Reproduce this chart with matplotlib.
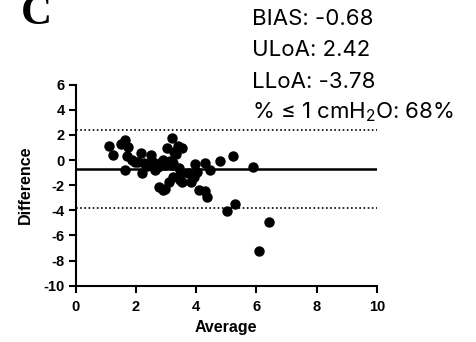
import numpy as np
from matplotlib import pyplot as plt
from matplotlib import rcParams

rcParams['mathtext.fontset'] = 'custom'
rcParams['mathtext.rm'] = 'Inter'
rcParams['axes.unicode_minus'] = False

# Bland-Altman data
avg = [1.10, 1.24, 1.49, 1.62, 1.73, 1.69, 1.62, 1.86, 1.97, 2.08,
       2.18, 2.19, 2.27, 2.36, 2.49, 2.44, 2.58, 2.63, 2.63, 2.74,
       2.80, 2.91, 2.93, 2.97, 2.77, 2.91, 2.97, 3.02, 3.06, 3.11,
       3.13, 3.19, 3.20, 3.24, 3.24, 3.27, 3.32, 3.41, 3.52, 3.43,
       3.47, 3.52, 3.47, 3.74, 3.83, 3.91, 3.97, 4.02, 4.09, 4.30,
       4.30, 4.36, 4.47, 4.80, 5.02, 5.22, 5.30, 5.90, 6.42, 6.10]
diff = [1.14, 0.40, 1.25, 1.60, 1.07, 0.35, -0.80, 0.00, -0.13, -0.19,
        0.59, -1.07, -0.21, -0.48, 0.40, -0.27, -0.13, -0.40, -0.80, -0.53,
        -0.21, 0.00, -0.27, -0.40, -2.13, -2.40, -2.27, 0.93, -0.27, -1.73,
        -0.05, -0.40, 1.78, -0.27, -1.33, 0.67, 0.45, 1.14, 0.93, -0.67,
        -1.20, -1.73, -1.55, -1.07, -1.73, -1.33, -0.35, -0.93, -2.40, -0.27,
        -2.48, -2.93, -0.80, -0.05, -4.08, 0.32, -3.47, -0.53, -4.92, -7.23]

bias = -0.68
uloa = 2.42
lloa = -3.78
xticks = [0, 2, 4, 6, 8, 10]
yticks = [6, 4, 2, 0, -2, -4, -6, -8, -10]

stats_lines = [f"BIAS: {bias}",
               f"ULoA: {uloa}",
               f"LLoA: {lloa}",
               r"% ≤ 1 cmH$_\mathregular{2}$O: 68%"]

tick_font = dict(family='Liberation Sans', weight='bold', size=10.5)

fig = plt.figure(figsize=(4.77, 3.42), dpi=100)
ax = fig.add_axes([0.159, 0.1646, 0.631, 0.588])

ax.plot(avg, diff, 'o', color='black', markersize=6.5, linewidth=0, clip_on=False, zorder=3)
ax.axhline(bias, color='black', linewidth=1.8, zorder=2)
ax.axhline(uloa, color='black', linewidth=1.2, linestyle=(0, (1, 1.5)), zorder=2)
ax.axhline(lloa, color='black', linewidth=1.2, linestyle=(0, (1, 1.5)), zorder=2)

ax.set_xlim(0, 10)
ax.set_ylim(-10, 6)
ax.set_xticks(xticks)
ax.set_xticklabels([str(t) for t in xticks], fontdict=tick_font)
ax.set_yticks(yticks)
ax.set_yticklabels([str(t) for t in yticks], fontdict=tick_font)
for s in ['top', 'right']:
    ax.spines[s].set_visible(False)
for s in ['left', 'bottom']:
    ax.spines[s].set_linewidth(1.5)
ax.tick_params(axis='both', direction='out', length=5, width=1.5)
ax.tick_params(axis='y', pad=3)
ax.tick_params(axis='x', pad=5)

ax.set_xlabel('Average', fontfamily='Liberation Sans', fontweight='bold', fontsize=11.5)
ax.set_ylabel('Difference', fontfamily='Liberation Sans', fontweight='bold', fontsize=11.5)
ax.xaxis.set_label_coords(0.5, -0.17)
ax.yaxis.set_label_coords(-0.142, 0.5)

fig.text(20.5 / 477, 1 - 23.5 / 342, 'C', fontfamily='Liberation Serif', fontweight='bold',
         fontsize=31, va='baseline', ha='left')

for i, line in enumerate(stats_lines):
    fig.text(252.5 / 477, 1 - (25 + 31.3 * i) / 342, line, fontfamily=['Inter', 'DejaVu Sans'],
             fontsize=16, va='baseline', ha='left')

fig.savefig('out.png', dpi=100)
